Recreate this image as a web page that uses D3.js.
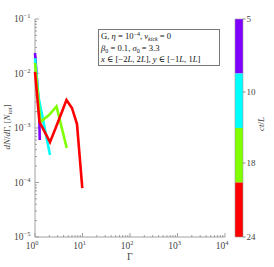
<!DOCTYPE html>
<html>
<head>
<meta charset="utf-8">
<script src="https://cdn.jsdelivr.net/npm/d3@7"></script>
<style>
  body { margin: 0; background: #fff; }
  svg { display: block; }
  text { font-family: "Liberation Serif", "DejaVu Serif", serif; }
</style>
</head>
<body>
<div id="chart"></div>
<script>
// series: Lorentz factor and dN/dGamma for each time ct/L
var times = [5, 10, 18, 24];
var colors = ["#7f00ff", "#00ffff", "#7fff00", "#ff0000"];
var gamma5 = [1.0, 1.22, 1.26];
var dn5 = [0.0238, 2.2e-3, 6.0e-4];
var gamma10 = [1.0, 1.185, 2.07];
var dn10 = [0.0192, 3.7e-3, 3.2e-4];
var gamma18 = [1.0, 1.3, 1.97, 2.84, 4.65];
var dn18 = [0.0156, 1.29e-3, 1.73e-3, 2.48e-3, 4.3e-4];
var gamma24 = [1.0, 1.24, 2.07, 3.05, 4.6, 6.0, 7.66, 9.9];
var dn24 = [0.0107, 1.29e-3, 5.5e-4, 1.29e-3, 3.27e-3, 2.33e-3, 1.18e-3, 7.9e-5];
var xTicks = [1, 10, 100, 1000, 10000];
var yTicks = [1e-5, 1e-4, 1e-3, 1e-2, 1e-1];
var cbTicks = [5, 10, 18, 24];

var W = 274, H = 267;
var svg = d3.select("#chart").append("svg")
    .attr("width", W)
    .attr("height", H);

var x = d3.scaleLog().domain([1, 1e4]).range([35, 225]);
var y = d3.scaleLog().domain([1e-5, 1e-1]).range([237, 19]);

var axisCol = "#a0a0a0", labCol = "#444";

// minor ticks
function minors(lo, hi) {
    var out = [];
    for (var e = lo; e < hi; e++) {
        for (var k = 2; k <= 9; k++) out.push(k * Math.pow(10, e));
    }
    return out;
}

// axes lines
svg.append("line").attr("x1", x(1)).attr("x2", x(1e4))
    .attr("y1", y(1e-5)).attr("y2", y(1e-5))
    .attr("stroke", axisCol).attr("stroke-width", 1);
svg.append("line").attr("x1", x(1)).attr("x2", x(1))
    .attr("y1", y(1e-5)).attr("y2", y(1e-1))
    .attr("stroke", axisCol).attr("stroke-width", 1);

// x ticks (inward)
svg.selectAll(".xmaj").data(xTicks).enter().append("line")
    .attr("x1", d => x(d)).attr("x2", d => x(d))
    .attr("y1", y(1e-5)).attr("y2", y(1e-5) - 4)
    .attr("stroke", axisCol);
svg.selectAll(".xmin").data(minors(0, 4)).enter().append("line")
    .attr("x1", d => x(d)).attr("x2", d => x(d))
    .attr("y1", y(1e-5)).attr("y2", y(1e-5) - 2)
    .attr("stroke", axisCol);
svg.selectAll(".ymaj").data(yTicks).enter().append("line")
    .attr("x1", x(1)).attr("x2", x(1) + 4)
    .attr("y1", d => y(d)).attr("y2", d => y(d))
    .attr("stroke", axisCol);
svg.selectAll(".ymin").data(minors(-5, -1)).enter().append("line")
    .attr("x1", x(1)).attr("x2", x(1) + 2)
    .attr("y1", d => y(d)).attr("y2", d => y(d))
    .attr("stroke", axisCol);

// tick labels 10^n
svg.selectAll(".xl").data(xTicks).enter().append("text")
    .attr("x", d => x(d) - 3).attr("y", 249)
    .attr("text-anchor", "middle")
    .attr("font-size", 9.5).attr("fill", labCol)
    .each(function(d) {
        var t = d3.select(this);
        t.append("tspan").text("10");
        t.append("tspan").attr("dy", -4).attr("font-size", 6.5)
            .text(Math.round(Math.log10(d)));
    });
svg.selectAll(".yl").data(yTicks).enter().append("text")
    .attr("x", 14).attr("y", d => y(d) + 3)
    .attr("font-size", 9.5).attr("fill", labCol)
    .each(function(d) {
        var t = d3.select(this);
        t.append("tspan").text("10");
        t.append("tspan").attr("dy", -4).attr("font-size", 6.5)
            .text("\u2212" + Math.abs(Math.round(Math.log10(d))));
    });

// axis labels
svg.append("text").attr("x", 130).attr("y", 260)
    .attr("text-anchor", "middle").attr("font-size", 10).attr("fill", labCol)
    .text("\u0393");
var yl = svg.append("text")
    .attr("transform", "translate(10,127) rotate(-90)")
    .attr("text-anchor", "middle").attr("font-size", 9).attr("fill", labCol);
yl.append("tspan").attr("font-style", "italic").text("dN");
yl.append("tspan").text("/");
yl.append("tspan").attr("font-style", "italic").text("d");
yl.append("tspan").text("\u0393, [");
yl.append("tspan").attr("font-style", "italic").text("N");
yl.append("tspan").attr("dy", 2).attr("font-size", 6.5).attr("font-style", "italic").text("tot");
yl.append("tspan").attr("dy", -2).text("]");

// lines
var series = [
    {g: gamma5, v: dn5}, {g: gamma10, v: dn10},
    {g: gamma18, v: dn18}, {g: gamma24, v: dn24}
];
var line = d3.line().x(d => x(d[0])).y(d => y(d[1]));
series.forEach(function(s, i) {
    svg.append("path")
        .datum(d3.zip(s.g, s.v))
        .attr("d", line)
        .attr("fill", "none")
        .attr("stroke", colors[i])
        .attr("stroke-width", 2.6)
        .attr("stroke-linejoin", "miter");
});

// annotation box
svg.append("rect").attr("x", 98.5).attr("y", 29.5)
    .attr("width", 121).attr("height", 36)
    .attr("fill", "#fff").attr("stroke", "#777").attr("stroke-width", 1);
var boxLines = [
    [["G, ", ""], ["\u03b7", "i"], [" = 10", ""], ["\u22124", "sup"], [", ", ""], ["v", "i"], ["kick", "sub"], [" = 0", ""]],
    [["\u03b2", "i"], ["0", "sub"], [" = 0.1, ", ""], ["\u03c3", "i"], ["0", "sub"], [" = 3.3", ""]],
    [["x", "i"], [" \u2208 [\u22122", ""], ["L", "i"], [", 2", ""], ["L", "i"], ["], ", ""], ["y", "i"], [" \u2208 [\u22121", ""], ["L", "i"], [", 1", ""], ["L", "i"], ["]", ""]]
];
boxLines.forEach(function(segs, li) {
    var t = svg.append("text").attr("x", 101).attr("y", 39 + li * 11.5)
        .attr("font-size", 8.6).attr("fill", "#111");
    var shift = 0;
    segs.forEach(function(s) {
        var sp = t.append("tspan").text(s[0]);
        var target = s[1] === "sup" ? -3.5 : s[1] === "sub" ? 2 : 0;
        if (target !== shift) { sp.attr("dy", target - shift); shift = target; }
        if (s[1] === "i" || s[1] === "sub" && isNaN(+s[0])) sp.attr("font-style", "italic");
        if (s[1] === "sup" || s[1] === "sub") sp.attr("font-size", 6);
    });
});

// colorbar
var cb = d3.scaleLinear().domain([0, 4]).range([19, 237]);
var cbScale = d3.scaleLinear().domain(cbTicks).range([19, 92, 163, 237]);
svg.selectAll(".cb").data(colors).enter().append("rect")
    .attr("x", 235).attr("width", 8)
    .attr("y", (d, i) => cb(i)).attr("height", (d, i) => cb(i + 1) - cb(i))
    .attr("fill", d => d);
svg.append("rect").attr("x", 235).attr("y", 19).attr("width", 8).attr("height", 218)
    .attr("fill", "none").attr("stroke", "#999").attr("stroke-width", 0.6);
svg.selectAll(".cbt").data(cbTicks).enter().append("line")
    .attr("x1", 243).attr("x2", 245.5)
    .attr("y1", d => cbScale(d)).attr("y2", d => cbScale(d))
    .attr("stroke", "#888");
svg.selectAll(".cbl").data(cbTicks).enter().append("text")
    .attr("x", 246.5).attr("y", d => cbScale(d) + 3)
    .attr("font-size", 9).attr("fill", labCol)
    .text(d => d);
var cl = svg.append("text")
    .attr("transform", "translate(264,124) rotate(-90)")
    .attr("text-anchor", "middle").attr("font-size", 9).attr("fill", labCol);
cl.append("tspan").attr("font-style", "italic").text("ct");
cl.append("tspan").text("/");
cl.append("tspan").attr("font-style", "italic").text("L");
</script>
</body>
</html>
